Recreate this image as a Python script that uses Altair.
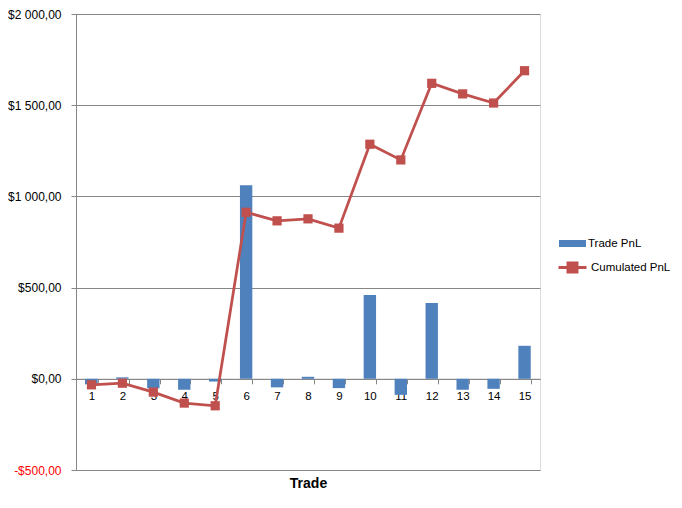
import altair as alt
import pandas as pd

trades = list(range(1, 16))
trade_pnl = [-30, 8, -52, -60, -15, 1061, -47, 11, -51, 460, -88, 416, -60, -55, 181]
cum_pnl = [-33, -24, -73, -133, -148, 913, 866, 877, 826, 1286, 1200, 1620, 1562, 1512, 1689]
y_ticks = [-500, 0, 500, 1000, 1500, 2000]

df = pd.DataFrame({
    "trade": trades,
    "pnl": trade_pnl,
    "cum": cum_pnl,
    "s1": ["Trade PnL"] * len(trades),
    "s2": ["Cumulated PnL"] * len(trades),
})

BLUE = "#4F81BD"
RED = "#C0504D"
GRAY = "#868686"
FONT = "Liberation Sans"

x_enc = alt.X(
    "trade:O",
    scale=alt.Scale(paddingInner=0.6, paddingOuter=0.3),
    axis=alt.Axis(
        labelAngle=0, offset=-91.2, tickBand="extent", grid=False,
        domainColor=GRAY, tickColor=GRAY, tickSize=5, labelPadding=7,
        labelFont=FONT, labelFontSize=11.5, labelColor="#000000",
        title="Trade", titleFont=FONT, titleFontSize=14, titleFontWeight="bold",
        titleColor="#000000", titleY=108.5, titleBaseline="alphabetic",
    ),
)

y_scale = alt.Scale(domain=[-500, 2000], nice=False, zero=False)
label_expr = ("(datum.value < 0 ? '-' : '') + '$' + "
              "replace(replace(format(abs(datum.value), ',.2f'), ',', ' '), '.', ',')")

y_axis = alt.Axis(
    values=y_ticks, grid=True, gridColor=GRAY, domainColor=GRAY, tickColor=GRAY,
    tickSize=5, labelPadding=10, labelFont=FONT, labelFontSize=12,
    labelExpr=label_expr,
    labelColor={"condition": {"test": "datum.value < 0", "value": "#FF0000"}, "value": "#000000"},
    title=None,
)

bars = alt.Chart(df).mark_bar().encode(
    x=x_enc,
    y=alt.Y("pnl:Q", scale=y_scale, axis=y_axis),
    fill=alt.Fill(
        "s1:N", scale=alt.Scale(domain=["Trade PnL"], range=[BLUE]),
        legend=alt.Legend(
            title=None, orient="none", legendX=483, legendY=216, padding=0,
            symbolType="M-1,-0.26H1V0.26H-1Z", symbolSize=729, symbolStrokeWidth=0,
            labelFont=FONT, labelFontSize=11.5, labelColor="#000000", labelOffset=2,
        ),
    ),
)

line = alt.Chart(df).mark_line(strokeWidth=2.75).encode(
    x=x_enc,
    y=alt.Y("cum:Q", scale=y_scale),
    stroke=alt.Stroke(
        "s2:N", scale=alt.Scale(domain=["Cumulated PnL"], range=[RED]),
        legend=alt.Legend(
            title=None, orient="none", legendX=481, legendY=238, padding=0,
            symbolType="M-1,0H1M-0.32,-0.32H0.32V0.32H-0.32Z", symbolSize=784,
            symbolStrokeWidth=3, symbolFillColor=RED,
            labelFont=FONT, labelFontSize=11.5, labelColor="#000000", labelOffset=3,
        ),
    ),
)

points = alt.Chart(df).mark_square(size=85, color=RED, opacity=1).encode(
    x=x_enc,
    y=alt.Y("cum:Q", scale=y_scale),
)

chart = alt.layer(bars, line, points).properties(
    width=464, height=456,
    autosize=alt.AutoSizeParams(type="none"),
    padding={"left": 68, "top": 6, "right": 134, "bottom": 30},
).configure_view(stroke=None).configure(background="white")

chart.save("out.html", embed_options={"renderer": "svg", "actions": False})
